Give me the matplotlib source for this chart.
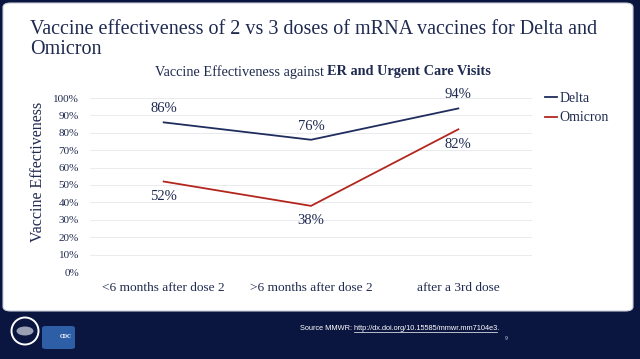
import matplotlib
matplotlib.use("Agg")
import matplotlib.pyplot as plt
import numpy as np
from matplotlib.patches import FancyBboxPatch, Ellipse

categories = ["<6 months after dose 2", ">6 months after dose 2", "after a 3rd dose"]
delta = [86, 76, 94]
omicron = [52, 38, 82]
yticks = list(range(0, 101, 10))
ytick_labels = [f"{v}%" for v in yticks]

W, H = 640, 359
NAVY_BG = "#0a1540"
TXT = "#1f2a50"
DELTA_C = "#1f2d5e"
OMI_C = "#b3261e"
SERIF = ["Liberation Serif", "DejaVu Serif"]

fig = plt.figure(figsize=(6.4, 3.59), dpi=100)
fig.patch.set_facecolor(NAVY_BG)

def fx(px):
    return px / W

def fy(py):
    return 1 - py / H

# white panel with gradient
panel = FancyBboxPatch((fx(3), fy(311)), fx(630), (308) / H,
                       boxstyle="round,pad=0,rounding_size=0.012",
                       transform=fig.transFigure, facecolor="white",
                       edgecolor="#c8ccd6", linewidth=0.8, zorder=0)
fig.patches.append(panel)
bg = fig.add_axes([fx(3), fy(311), fx(630), 308 / H], zorder=0)
grad = np.linspace(0, 1, 256)
vals = np.clip((grad - 0.55) / 0.45, 0, 1)
img = np.ones((256, 1, 3))
for i in range(3):
    img[:, 0, i] = 1 - vals * 0.10
bg.imshow(img, aspect="auto", extent=[0, 1, 1, 0])
bg.set_xlim(0, 1)
bg.set_ylim(1, 0)
bg.axis("off")
bg.images[0].set_clip_path(panel)

# titles
fig.text(fx(30), fy(29), "Vaccine effectiveness of 2 vs 3 doses of mRNA vaccines for Delta and",
         family=SERIF, fontsize=14.5, color=TXT, va="center", ha="left")
fig.text(fx(30), fy(49), "Omicron", family=SERIF, fontsize=14.5, color=TXT, va="center", ha="left")

renderer = fig.canvas.get_renderer()
t1 = fig.text(0, fy(72), "Vaccine Effectiveness against ", family=SERIF, fontsize=10.3,
              color=TXT, va="center", ha="left")
t2 = fig.text(0, fy(72), "ER and Urgent Care Visits", family=SERIF, fontsize=10.3,
              color=TXT, va="center", ha="left", weight="bold")
w1 = t1.get_window_extent(renderer).width
w2 = t2.get_window_extent(renderer).width
start = 323 - (w1 + w2) / 2
t1.set_x(fx(start))
t2.set_x(fx(start + w1))

# main axes
ax = fig.add_axes([fx(90), fy(272), fx(442), (272 - 98) / H], zorder=2)
ax.patch.set_alpha(0)
x = np.arange(len(categories))
ax.plot(x, delta, color=DELTA_C, lw=1.3, label="Delta")
ax.plot(x, omicron, color=OMI_C, lw=1.3, label="Omicron")
ax.set_xlim(-0.5, 2.5)
ax.set_ylim(0, 100)
ax.set_yticks(yticks)
ax.set_yticklabels(ytick_labels, family=SERIF, fontsize=8, color=TXT)
ax.set_xticks(x)
ax.set_xticklabels(categories, family=SERIF, fontsize=9.6, color=TXT)
ax.tick_params(axis="y", length=0, pad=8)
ax.tick_params(axis="x", length=0, pad=7)
ax.grid(axis="y", color="#e6e8ec", lw=0.6)
for s in ax.spines.values():
    s.set_visible(False)
ax.set_ylabel("Vaccine Effectiveness", family=SERIF, fontsize=11.5, color=TXT)
ax.yaxis.set_label_coords(-0.1, 0.575)

for xi, v in zip(x, delta):
    ax.annotate(f"{v}%", (xi, v), xytext=(0, 5), textcoords="offset points",
                ha="center", va="bottom", family=SERIF, fontsize=10.5, color=TXT)
for xi, v in zip(x, omicron):
    ax.annotate(f"{v}%", (xi, v), xytext=(0, -6), textcoords="offset points",
                ha="center", va="top", family=SERIF, fontsize=10.5, color=TXT)

leg = ax.legend(loc="upper left", bbox_to_anchor=(1.0, 1.105), frameon=False,
                prop={"family": SERIF, "size": 10}, handlelength=0.9, handletextpad=0.15,
                labelspacing=0.45)
for t in leg.get_texts():
    t.set_color(TXT)

# footer
fig.patches.append(Ellipse((fx(25), fy(331)), 27 / W, 27 / H, transform=fig.transFigure,
                           facecolor="#0a1540", edgecolor="white", lw=1.4))
fig.patches.append(Ellipse((fx(25), fy(331)), 17 / W, 9 / H, transform=fig.transFigure,
                           facecolor="#9aa0b4", edgecolor="none"))
fig.patches.append(FancyBboxPatch((fx(42), fy(349)), fx(33), 23 / H,
                                  boxstyle="round,pad=0,rounding_size=0.006",
                                  transform=fig.transFigure, facecolor="#2e5fa6",
                                  edgecolor="none"))
fig.text(fx(66), fy(336), "CDC", color="white", fontsize=3.5, ha="center", va="center",
         family="DejaVu Serif", weight="bold")

SANS = ["Liberation Sans", "DejaVu Sans"]
prefix = "Source MMWR: "
url = "http://dx.doi.org/10.15585/mmwr.mm7104e3"
full = fig.text(fx(300), fy(328), prefix + url + ".", color="white", fontsize=6.5,
                ha="left", va="center", family=SANS)
fw = full.get_window_extent(renderer).width
fs2 = 6.5 * 200.0 / fw
full.set_fontsize(fs2)
tmp1 = fig.text(0, 0, prefix.replace(" ", "\u00a0"), fontsize=fs2, family=SANS)
tmp2 = fig.text(0, 0, url, fontsize=fs2, family=SANS)
pa = tmp1.get_window_extent(renderer).width
pb = tmp2.get_window_extent(renderer).width
tmp1.remove()
tmp2.remove()
fig.lines.append(plt.Line2D([fx(300 + pa), fx(300 + pa + pb)], [fy(332), fy(332)],
                            color="white", lw=0.5, transform=fig.transFigure))
fig.text(fx(506), fy(339), "9", color="#c0c4d0", fontsize=3.5, ha="center", va="center",
         family="DejaVu Sans")

fig.savefig("out.png", dpi=100, facecolor=fig.get_facecolor())
